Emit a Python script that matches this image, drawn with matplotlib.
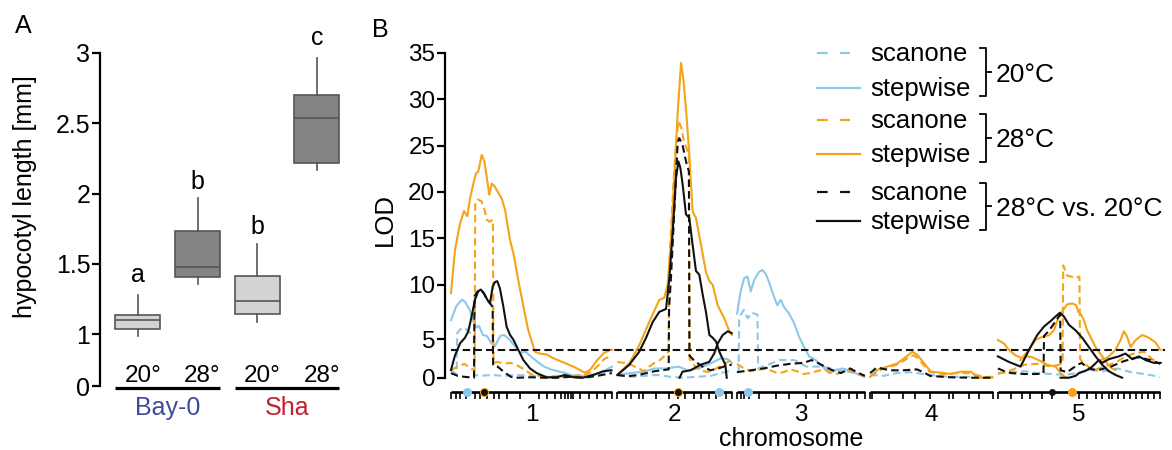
import matplotlib
matplotlib.use("Agg")
import matplotlib.pyplot as plt
from matplotlib.lines import Line2D

plt.rcParams['font.family'] = ['Liberation Sans', 'DejaVu Sans']

# ---------------- Panel A data: hypocotyl length boxplot summaries ----------------
box_labels = ['20°', '28°', '20°', '28°']
box_whislo = [0.99, 1.355, 1.087, 2.167]
box_q1 = [1.04, 1.41, 1.142, 2.22]
box_med = [1.10, 1.48, 1.24, 2.534]
box_q3 = [1.14, 1.735, 1.416, 2.70]
box_whishi = [1.28, 1.97, 1.64, 2.965]
box_letters = ['a', 'b', 'b', 'c']
box_colors = ['#d3d3d3', '#848484', '#d3d3d3', '#848484']
groups = ['Bay-0', 'Sha']
group_colors = ['#3b4c9b', '#c4202e']

# ---------------- Panel B data: QTL LOD profiles ----------------
chrom_lengths = [121, 86, 96, 92, 122]      # cM
chrom_gap = 4
lod_threshold = 3.0

markers = {
    1: [0, 4, 7, 11, 18, 22, 27, 32, 36, 42, 52, 66, 72, 78, 83, 86, 88, 90, 92, 97, 104, 110, 116, 121],
    2: [0, 6.5, 10, 16, 19, 29, 39, 45.5, 50.5, 58, 63, 69, 74, 81.5, 86],
    3: [0, 2.8, 5.3, 9, 16.5, 29, 39, 52, 61, 70, 77, 84, 90, 96],
    4: [0, 1.7, 14, 25, 34, 45, 59.4, 62.5, 74, 82, 92],
    5: [0, 10, 18.3, 24, 33, 41, 61, 67, 73.4, 78.4, 83.5, 86, 90, 95, 99, 104, 108, 113, 117, 122],
}

# (chromosome, positions [cM], LOD)
scanone_20 = [
    (1, [0, 3, 4.3, 4.6, 7, 10, 13, 16, 17.2, 17.6, 22, 30, 40, 50, 60, 70, 80, 90, 100, 110, 121],
        [0.8, 0.5, 0.4, 4.8, 5.2, 5.4, 5.0, 4.6, 4.5, 0.3, 0.2, 0.3, 0.2, 0.3, 0.2, 0.1, 0.2, 0.3, 0.2, 0.4, 0.8]),
    (2, [0, 10, 20, 30, 40, 50, 60, 70, 78, 86],
        [0.3, 0.1, 0.2, 0.3, 0.1, 0.0, 0.1, 0.2, 0.5, 0.8]),
    (3, [0, 1.2, 1.6, 5, 8, 11, 15.3, 15.8, 25, 32, 43, 52, 64, 77, 89, 96],
        [0.5, 0.8, 6.5, 7.3, 6.4, 7.0, 6.8, 1.0, 1.5, 1.9, 1.9, 1.2, 1.2, 0.8, 0.5, 0.2]),
    (4, [0, 10, 20, 30, 40, 50, 60, 70, 80, 92],
        [0.3, 0.2, 0.5, 0.6, 0.4, 0.2, 0.1, 0.1, 0.1, 0.1]),
    (5, [0, 10, 20, 30, 40, 50, 60, 70, 80, 90, 100, 110, 122],
        [0.5, 0.6, 0.7, 0.5, 0.4, 0.3, 0.5, 0.8, 0.7, 1.0, 0.6, 0.4, 0.1]),
]

stepwise_20 = [
    (1, [0, 4, 8, 10.5, 14, 17, 19, 21, 24, 27, 30, 33, 37, 40, 44, 48, 52, 56, 60, 65, 70, 75, 80,
         86, 92, 98, 104, 110, 116, 121],
        [6.2, 7.7, 8.4, 8.2, 7.3, 6.0, 5.4, 5.6, 4.6, 4.5, 3.8, 3.4, 4.5, 4.6, 4.1, 3.4, 2.7, 2.8, 2.3,
         1.7, 1.2, 0.9, 0.7, 0.5, 0.2, 0.1, 0.2, 0.4, 0.8, 1.2]),
    (2, [0, 10, 20, 28, 37, 46, 53, 61, 71, 78, 83, 86],
        [0.3, 0.5, 0.65, 1.0, 1.0, 1.2, 0.8, 1.0, 1.6, 2.1, 2.0, 1.6]),
    (3, [0, 2.8, 5.3, 7.8, 10.3, 12.8, 16.5, 19, 21.5, 24, 27.8, 30.3, 32.8, 35.3, 39.1, 42.8, 46.6,
         50.4, 54.1, 59.1, 64.1, 69.2, 74.2, 79.2, 84.2, 89.2, 95.5],
        [6.9, 9.4, 10.7, 10.9, 9.3, 10.5, 11.4, 11.6, 11.2, 10.3, 8.7, 7.8, 8.4, 7.6, 6.9, 5.9, 4.4,
         3.3, 2.3, 1.9, 1.2, 0.5, 0.8, 1.0, 0.8, 0.5, 0.1]),
]

scanone_28 = [
    (1, [0, 5, 10, 15, 17.8, 18.2, 20, 23, 25, 27, 29, 31.5, 31.9, 35, 40, 45, 50, 55, 60, 70, 80, 90,
         100, 105, 110, 115, 121],
        [0.8, 1.2, 1.5, 1.0, 0.8, 18.8, 19.2, 19.0, 18.2, 17.0, 16.8, 17.0, 1.6, 1.7, 1.5, 1.6, 1.3, 0.9,
         0.4, 0.1, 0.1, 0.2, 0.3, 0.6, 1.2, 2.0, 2.4]),
    (2, [0, 5, 10, 16, 20, 24, 28, 32, 36, 38.5, 39, 42, 44, 46, 48, 50, 53.8, 54.3, 58, 63, 68, 73,
         78, 83, 86],
        [1.7, 1.6, 1.4, 1.0, 0.7, 1.2, 1.6, 1.9, 2.4, 2.8, 12.0, 20.5, 25.0, 27.6, 27.0, 25.5, 24.0, 2.0,
         1.3, 0.8, 0.6, 0.9, 1.3, 1.7, 1.9]),
    (3, [0, 5, 10, 15, 20, 25, 30, 35, 40, 45, 50, 55, 60, 65, 70, 75, 80, 85, 90, 96],
        [1.5, 1.0, 0.7, 0.8, 1.0, 0.8, 0.5, 0.6, 0.9, 0.7, 0.4, 0.5, 0.7, 0.9, 0.6, 0.4, 0.7, 0.8, 0.4, 0.2]),
    (4, [0, 5, 10, 15, 20, 25, 30, 33, 36, 40, 45, 55, 65, 75, 85, 92],
        [0.1, 0.6, 1.0, 1.2, 1.4, 1.8, 2.3, 2.4, 2.1, 1.4, 0.6, 0.4, 0.5, 0.5, 0.1, 0.0]),
    (5, [0, 10, 20, 30, 40, 48.6, 49.1, 52, 55, 58, 61.3, 61.8, 66, 72, 80, 88, 95, 102, 110, 116, 122],
        [0.4, 0.8, 1.4, 1.5, 1.2, 1.5, 12.1, 11.0, 10.9, 10.7, 10.9, 2.0, 1.4, 0.8, 1.2, 1.6, 2.2, 2.6,
         2.8, 2.0, 1.5]),
]

stepwise_28 = [
    (1, [0, 3, 6.8, 9.8, 12.3, 14.3, 16.8, 18.8, 20.5, 23.1, 25.1, 26.8, 28.8, 30.6, 32.8, 35.6, 38.1,
         40.6, 44.4, 46.9, 50.6, 54.4, 58.1, 63.1, 66.9, 71.9, 76.9, 81.9, 86.9, 91.9, 96.9, 100.6,
         104.4, 109.4, 114.4, 119.4, 121],
        [9.1, 13.75, 16.6, 17.95, 17.4, 19.3, 20.9, 22.0, 22.2, 24.0, 23.3, 21.65, 19.7, 20.9, 20.6,
         19.9, 19.3, 18.1, 14.8, 13.4, 10.5, 7.7, 5.1, 2.8, 2.6, 2.5, 2.1, 1.8, 1.5, 1.2, 0.83, 0.54,
         0.83, 1.8, 2.6, 3.0, 3.0]),
    (2, [0, 9, 16.5, 24, 31.6, 35.3, 37.8, 40.3, 42.8, 45.4, 47.9, 49.6, 51.6, 54.1, 56.6, 59.1, 62.9,
         66.6, 69.2, 71.7, 75.4, 80.4, 84.2, 86],
        [0.3, 1.55, 3.5, 6.0, 8.4, 8.6, 10.0, 14.6, 21.5, 28.6, 33.9, 32.2, 29.0, 24.0, 17.9, 17.2, 14.3,
         11.4, 10.4, 10.0, 7.8, 6.4, 5.0, 4.6]),
    (4, [0, 5.5, 13, 20.5, 25.6, 31.8, 35.6, 40.6, 45.6, 53.1, 60.6, 68.1, 75.7, 80.7, 85.7, 92],
        [0.1, 0.85, 1.2, 1.55, 2.1, 2.8, 2.45, 1.55, 0.65, 0.55, 0.4, 0.65, 0.65, 0.0, 0.0, 0.05]),
    (5, [0, 4.5, 8.3, 13.3, 18.3, 22, 26, 32, 37, 43.4, 47.1, 51],
        [4.06, 3.7, 3.0, 2.4, 2.1, 2.3, 2.2, 1.8, 1.4, 1.2, 0.5, 0.0]),
    (5, [17, 23.3, 28.3, 33.3, 38.3, 42.1, 45.8, 49.6, 52.1, 55.9, 58.9, 60.4, 62.1, 64.6, 67.1, 69.6,
         73.4, 78.4, 82.2, 85.9, 88.4],
        [1.9, 3.0, 4.06, 4.4, 4.56, 5.1, 6.6, 7.4, 7.9, 8.0, 7.8, 7.1, 6.9, 6.2, 5.1, 4.4, 3.3, 2.3, 1.5,
         1.0, 0.85]),
    (5, [75.9, 80, 83.4, 88.4, 92.2, 94.7, 97.2, 99.7, 103.5, 108.5, 113.5, 118.5, 122],
        [1.9, 2.0, 2.3, 3.0, 4.06, 5.0, 4.4, 3.3, 4.06, 4.6, 4.3, 3.8, 3.0]),
]

scanone_diff = [
    (1, [0, 5, 10, 17.3, 17.7, 20, 22.5, 25, 27, 29.5, 31.3, 31.7, 35, 40, 45, 50, 60, 70, 80, 90, 100,
         110, 121],
        [0.5, 0.2, 0.1, 0.0, 8.8, 9.3, 9.5, 9.0, 8.4, 8.0, 7.6, 1.3, 1.2, 0.6, 0.1, 0.0, 0.05, 0.0, 0.0,
         0.1, 0.0, 0.2, 0.5]),
    (2, [0, 5, 10, 16, 22, 28, 33, 38.6, 38.9, 40.3, 42.8, 45.4, 46.6, 49.1, 51.6, 53.8, 54.2, 58, 64,
         70, 76, 82, 86],
        [0.3, 0.2, 0.2, 0.3, 0.5, 0.7, 0.8, 0.9, 7.5, 10.7, 17.9, 25.4, 25.8, 25.0, 23.3, 22.2, 2.4, 1.8,
         1.2, 0.8, 1.0, 1.3, 1.4]),
    (3, [0, 10, 20, 30, 40, 50, 56, 62, 70, 78, 85, 90, 96],
        [0.6, 0.8, 1.0, 1.3, 1.5, 1.6, 1.9, 1.5, 0.9, 0.5, 1.0, 0.6, 0.2]),
    (4, [0, 5, 15, 25, 35, 40, 45, 60, 75, 92],
        [0.5, 1.1, 0.8, 0.8, 0.9, 0.6, 0.2, 0.05, 0.0, 0.0]),
    (5, [0, 5, 10, 20, 30, 34.3, 34.7, 38, 42, 46.8, 47.2, 52, 56, 60, 63, 68, 75, 85, 95, 105, 115, 122],
        [1.0, 0.7, 0.5, 0.4, 0.4, 0.5, 4.5, 5.0, 5.8, 6.8, 0.8, 0.6, 1.0, 1.4, 1.6, 1.0, 0.8, 1.2, 1.8,
         2.2, 1.9, 1.5]),
]

stepwise_diff = [
    (1, [0, 3, 6.8, 10.5, 13, 15.5, 18, 20.5, 22.3, 24.8, 27.3, 29.3, 31.3, 33, 34.8, 36.8, 39.3, 41.8,
         44.4, 46.9, 50.6, 54.4, 59.4, 64.4, 71.9, 79.4, 85.6, 91.9, 99, 106.9, 114.4, 120.6],
        [0.83, 2.4, 3.7, 4.3, 5.0, 6.6, 8.4, 9.3, 9.5, 9.1, 8.4, 8.0, 9.8, 10.3, 10.4, 9.6, 7.7, 5.5, 4.6,
         4.1, 3.0, 1.9, 1.0, 0.5, 0.04, 0.05, 0.3, 0.05, 0.0, 0.3, 0.7, 0.8]),
    (2, [0, 9, 16.5, 21.6, 26.6, 31.6, 36.6, 39.1, 41.6, 44.1, 45.9, 47.4, 49.1, 51.6, 54.1, 56.6, 59.1,
         61.6, 64.1, 66.6, 69.2, 71.7, 74.2, 76.7, 79.2, 81.2, 82.2],
        [0.3, 1.4, 2.8, 4.3, 6.0, 7.1, 7.4, 10.7, 15.7, 21.5, 23.3, 22.6, 20.8, 17.6, 17.2, 14.3, 11.5,
         11.1, 9.0, 7.1, 4.6, 4.3, 3.9, 2.8, 2.0, 1.4, 0.0]),
    (2, [46.8, 49, 55, 62.6, 69, 72.8, 75.5, 79.2, 83.0, 86],
        [0.0, 0.65, 0.8, 1.4, 1.7, 2.6, 3.7, 4.6, 5.0, 4.8]),
    (5, [0, 8.3, 17.0, 20.8, 24.5, 29.6, 34.6, 39.6, 43.4, 46.6, 49.6, 53.4, 58.4, 63.4, 68.4, 73.4,
         78.4, 83.4, 88.4, 93.4],
        [2.3, 1.7, 1.2, 2.26, 3.3, 4.6, 5.5, 6.1, 6.6, 7.0, 6.6, 5.7, 5.1, 4.3, 3.3, 2.3, 1.4, 0.7, 0.3,
         0.0]),
    (5, [47.1, 53.4, 58.4, 60.9, 68.4, 70.9, 75.9, 78.4, 83.4, 85.9, 90.9, 95.9, 101, 106, 111, 117.2,
         122.3],
        [0.0, 0.0, 0.2, 0.5, 0.9, 1.2, 1.9, 1.6, 2.0, 2.1, 2.3, 2.6, 2.0, 2.3, 1.9, 1.6, 1.6]),
]

# QTL positions (chromosome, cM)
qtl_20 = [(1, 12), (2, 76.7), (3, 8.3)]
qtl_28 = [(1, 25), (2, 45.8), (5, 55.4)]
qtl_diff = [(1, 25), (2, 45.8), (5, 40.4)]

# ---------------- styling ----------------
BLUE = '#8cc8ea'
ORANGE = '#f5a31a'
BLACK = '#111111'
DASH = (3.6, 2.0)

W, H = 1172, 450
fig = plt.figure(figsize=(W / 100, H / 100), dpi=100)


def fx(px):
    return px / W


def fy(py):
    return 1 - py / H


# ================= Panel A =================
axA = fig.add_axes([fx(100), fy(386), fx(345) - fx(100), fy(52.7) - fy(386)])
positions = [1, 2, 3, 4]
stats = [dict(whislo=a, q1=b, med=c, q3=d, whishi=e, fliers=[])
         for a, b, c, d, e in zip(box_whislo, box_q1, box_med, box_q3, box_whishi)]
edge = '#555555'
bp = axA.bxp(stats, positions=positions, widths=0.755, patch_artist=True,
             showfliers=False, showcaps=False,
             boxprops=dict(edgecolor=edge, linewidth=1.2),
             medianprops=dict(color=edge, linewidth=1.2),
             whiskerprops=dict(color=edge, linewidth=1.2))
for patch, col in zip(bp['boxes'], box_colors):
    patch.set_facecolor(col)

y_zero = 0.633
axA.set_xlim(0.364, 4.47)
axA.set_ylim(y_zero, 3.0)
axA.set_yticks([y_zero, 1, 1.5, 2, 2.5, 3])
axA.set_yticklabels(['0', '1', '1.5', '2', '2.5', '3'])
axA.set_xticks([])
for s in ['top', 'right', 'bottom']:
    axA.spines[s].set_visible(False)
axA.spines['left'].set_linewidth(1.6)
axA.tick_params(axis='y', length=6, width=1.6, labelsize=18, pad=1)

for x, lab in zip(positions, box_labels):
    axA.text(x + 0.08, 0.663, lab, ha='center', va='baseline', fontsize=17.5, clip_on=False)
letter_base = [1.374, 2.030, 1.710, 3.055]
for x, letter, yb in zip(positions, box_letters, letter_base):
    axA.text(x, yb, letter, ha='center', va='baseline', fontsize=18, clip_on=False)

for gi, (g, gc) in enumerate(zip(groups, group_colors)):
    xa = positions[2 * gi] - 0.377
    xb = positions[2 * gi + 1] + 0.377
    axA.plot([xa, xb], [0.619, 0.619], color='black', lw=2.3, clip_on=False,
             solid_capstyle='butt')
    axA.text((xa + xb) / 2, 0.427, g, color=gc, ha='center', va='baseline', fontsize=18,
             clip_on=False)

fig.text(fx(25.5), fy(197), 'hypocotyl length [mm]', rotation=90, ha='center', va='center',
         fontsize=18)
fig.text(fx(15), fy(33.3), 'A', ha='left', va='baseline', fontsize=18)
fig.text(fx(371.7), fy(36.7), 'B', ha='left', va='baseline', fontsize=18)

# ================= Panel B =================
offsets = []
acc = 0
for L in chrom_lengths:
    offsets.append(acc)
    acc += L + chrom_gap

axB = fig.add_axes([fx(445), fy(383.3), fx(1165) - fx(445), fy(52.7) - fy(383.3)])
axB.set_xlim(-4.5, 536.6)
axB.set_ylim(-0.6, 35)
for s in ['top', 'right', 'bottom']:
    axB.spines[s].set_visible(False)
axB.spines['left'].set_linewidth(1.6)
axB.spines['left'].set_bounds(0, 35)
axB.set_xticks([])
axB.set_yticks([0, 4.14, 10, 15, 20, 25, 30, 35])
axB.set_yticklabels(['0', '5', '10', '15', '20', '25', '30', '35'])
axB.tick_params(axis='y', length=6, width=1.6, labelsize=17.5, pad=1)


def draw_series(series, color, dashed):
    for chrom, pos, lod in series:
        xs = [offsets[chrom - 1] + p for p in pos]
        line, = axB.plot(xs, lod, color=color, lw=1.5, solid_joinstyle='round')
        if dashed:
            line.set_dashes(DASH)


draw_series(scanone_20, BLUE, True)
draw_series(stepwise_20, BLUE, False)
draw_series(scanone_28, ORANGE, True)
draw_series(stepwise_28, ORANGE, False)
draw_series(scanone_diff, BLACK, True)
draw_series(stepwise_diff, BLACK, False)

thr, = axB.plot([0, 536.6], [lod_threshold, lod_threshold], color=BLACK, lw=1.5)
thr.set_dashes(DASH)

# chromosome axes with marker ticks
y_axis = -1.51
y_tick = -2.25
for c, L in enumerate(chrom_lengths, start=1):
    off = offsets[c - 1]
    axB.plot([off, off + L], [y_axis, y_axis], color='black', lw=1.9, clip_on=False,
             solid_capstyle='butt')
    axB.vlines([off + m for m in markers[c]], y_tick, y_axis, color='black', lw=1.2,
               clip_on=False)
    axB.text(off + L / 2, -4.63, str(c), ha='center', va='baseline', fontsize=17.5, clip_on=False)

for chrom, p in qtl_20:
    axB.plot(offsets[chrom - 1] + p, y_axis, 'o', color=BLUE, ms=6.5, mec='none',
             clip_on=False, zorder=5)
for chrom, p in qtl_28:
    axB.plot(offsets[chrom - 1] + p, y_axis, 'o', color=ORANGE, ms=6.5, mec='none',
             clip_on=False, zorder=5)
for chrom, p in qtl_diff:
    axB.plot(offsets[chrom - 1] + p, y_axis, 'o', color=BLACK, ms=5.0, mec='none',
             clip_on=False, zorder=6)

fig.text(fx(791.5), fy(446), 'chromosome', ha='center', va='baseline', fontsize=18)
fig.text(fx(385), fy(219), 'LOD', rotation=90, ha='center', va='center', fontsize=18.5)

# ---------------- legend ----------------
legend_rows = [
    ('scanone', BLUE, True, 53.3),
    ('stepwise', BLUE, False, 88.3),
    ('scanone', ORANGE, True, 120.0),
    ('stepwise', ORANGE, False, 154.0),
    ('scanone', BLACK, True, 191.7),
    ('stepwise', BLACK, False, 220.7),
]
for text, col, dashed, yy in legend_rows:
    if dashed:
        ln = Line2D([fx(817), fx(850)], [fy(yy), fy(yy)], color=col, lw=1.6,
                    transform=fig.transFigure)
        ln.set_dashes((4.8, 5.6))
    else:
        ln = Line2D([fx(817), fx(860)], [fy(yy), fy(yy)], color=col, lw=1.6,
                    transform=fig.transFigure)
    fig.add_artist(ln)
    fig.text(fx(870), fy(yy + 8), text, ha='left', va='baseline', fontsize=18.5)

brackets = [
    ('20°C', 48.3, 96.0),
    ('28°C', 114.3, 161.7),
    ('28°C vs. 20°C', 182.7, 230.0),
]
for lab, ytop, ybot in brackets:
    xl, xv, xt = 980, 985.5, 990.5
    ymid = (ytop + ybot) / 2
    fig.add_artist(Line2D([fx(xl), fx(xv), fx(xv), fx(xl)],
                          [fy(ytop), fy(ytop), fy(ybot), fy(ybot)],
                          color='black', lw=1.3, transform=fig.transFigure))
    fig.add_artist(Line2D([fx(xv), fx(xt)], [fy(ymid), fy(ymid)],
                          color='black', lw=1.3, transform=fig.transFigure))
    fig.text(fx(995.7), fy(ymid + 9.4), lab, ha='left', va='baseline', fontsize=19)

fig.savefig('out.png', dpi=100)
